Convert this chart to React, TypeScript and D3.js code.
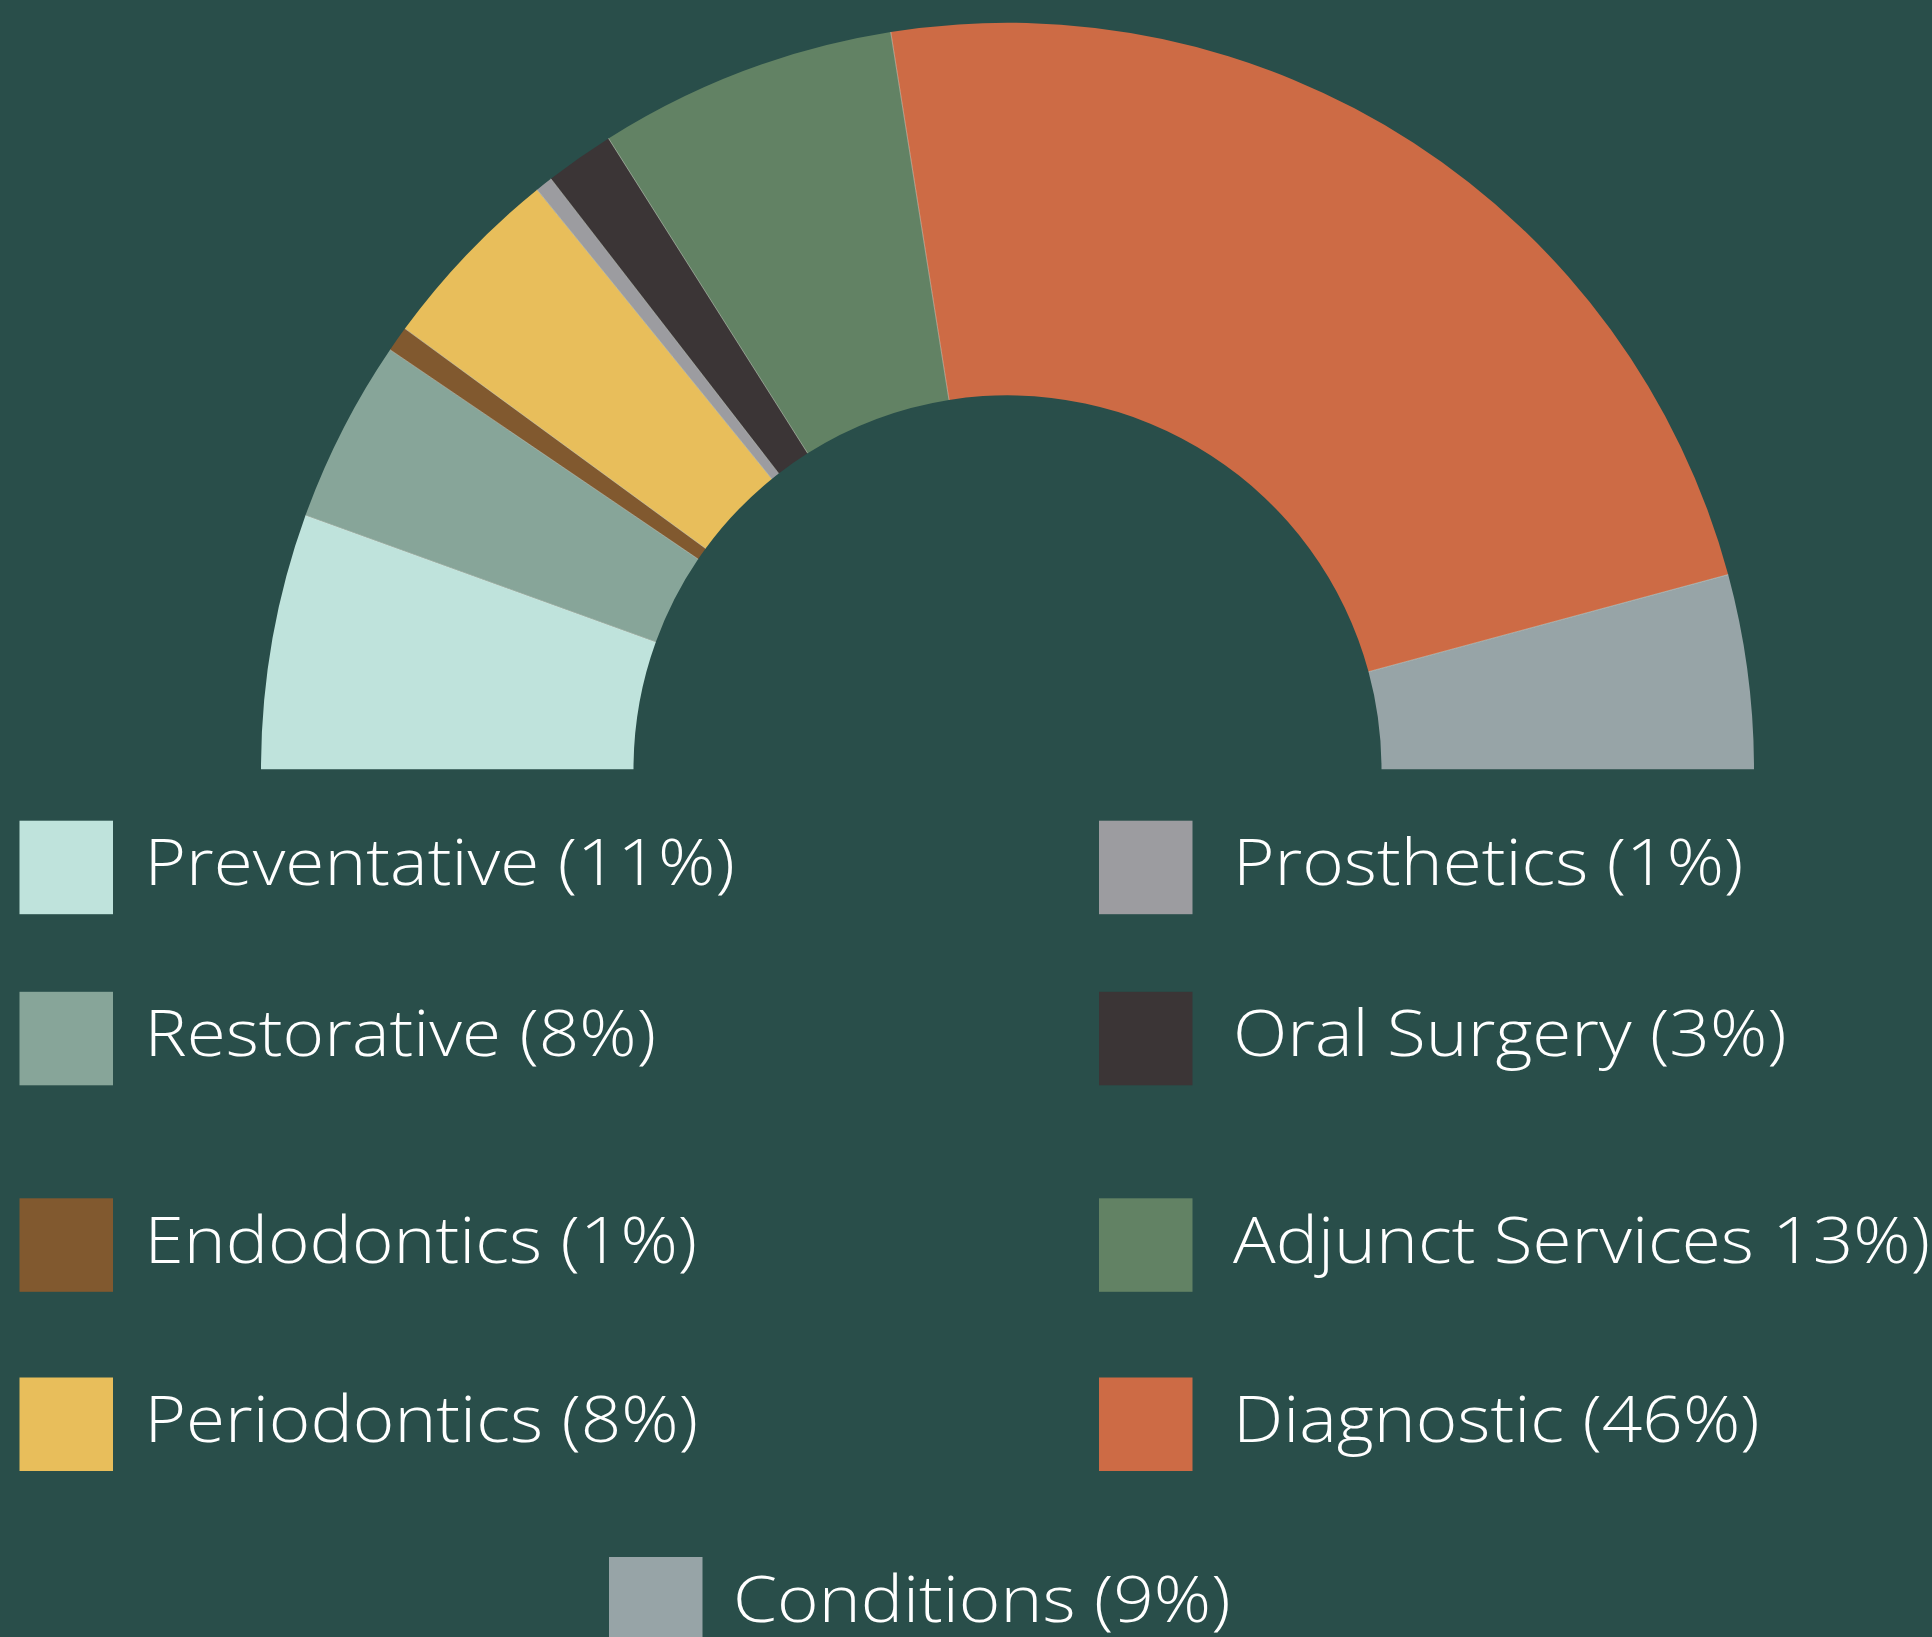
import React from "react";
import * as d3 from "d3";

// ---- data ----
const categories = [
  "Preventative",
  "Restorative",
  "Endodontics",
  "Periodontics",
  "Prosthetics",
  "Oral Surgery",
  "Adjunct Services",
  "Diagnostic",
  "Conditions",
];
const shares = [11.05, 7.95, 1.1, 8.2, 0.75, 3.0, 12.95, 46.6, 8.4];
const legendLabels = [
  "Preventative (11%)",
  "Restorative (8%)",
  "Endodontics (1%)",
  "Periodontics (8%)",
  "Prosthetics (1%)",
  "Oral Surgery (3%)",
  "Adjunct Services 13%)",
  "Diagnostic (46%)",
  "Conditions (9%)",
];
const colors = [
  "#bfe3dc",
  "#87a599",
  "#81592f",
  "#e8be5b",
  "#9c9ca0",
  "#3b3536",
  "#628264",
  "#cd6b45",
  "#97a4a7",
];

const W = 1932;
const H = 1637;
const BG = "#294e4a";

export default function App() {
  const cx = 1007.5;
  const cy = 769.3;
  const rOuter = 746.5;
  const rInner = 374;

  const items = categories.map((c, i) => ({ c, v: shares[i], i }));
  const pie = d3
    .pie<any>()
    .value((d) => d.v)
    .sort(null)
    .startAngle(-Math.PI / 2)
    .endAngle(Math.PI / 2);
  const arcs = pie(items);
  const arc = d3.arc<any>().innerRadius(rInner).outerRadius(rOuter);

  // boundary lines between slices
  const boundaries = arcs.slice(0, -1).map((a) => a.endAngle);

  // legend layout
  const sq = 93.5;
  const rowTops = [820.7, 991.8, 1198.3, 1377.5];
  const colX = [19.5, 1099];
  const colDx = [125, 134];
  const condTop = 1557;
  const condX = 609;
  const condDx = 124;
  const baseDy = 64.5;
  const stretch = 1.11;

  const legendPos = categories.map((_, i) => {
    if (i < 4) return { x: colX[0], y: rowTops[i], dx: colDx[0] };
    if (i < 8) return { x: colX[1], y: rowTops[i - 4], dx: colDx[1] };
    return { x: condX, y: condTop, dx: condDx };
  });

  return (
    <svg
      width={W}
      height={H}
      viewBox={`0 0 ${W} ${H}`}
      style={{ position: "absolute", left: 0, top: 0, display: "block" }}
    >
      <rect x={0} y={0} width={W} height={H} fill={BG} />
      <g transform={`translate(${cx},${cy})`}>
        {arcs.map((a, i) => (
          <path key={i} d={arc(a) as string} fill={colors[i]} />
        ))}
        {boundaries.map((ang, i) => (
          <line
            key={i}
            x1={rInner * Math.sin(ang)}
            y1={-rInner * Math.cos(ang)}
            x2={rOuter * Math.sin(ang)}
            y2={-rOuter * Math.cos(ang)}
            stroke="#e6e2d6"
            strokeOpacity={0.45}
            strokeWidth={1}
          />
        ))}
      </g>
      <g>
        {legendPos.map((p, i) => (
          <g key={i}>
            <rect x={p.x} y={p.y} width={sq} height={sq} fill={colors[i]} />
            <text
              transform={`translate(${p.x + p.dx},${p.y + baseDy}) scale(${stretch},1)`}
              fill="#ffffff"
              fontFamily="'Open Sans', 'DejaVu Sans', sans-serif"
              fontWeight={300}
              fontSize={64}
            >
              {legendLabels[i]}
            </text>
          </g>
        ))}
      </g>
    </svg>
  );
}
